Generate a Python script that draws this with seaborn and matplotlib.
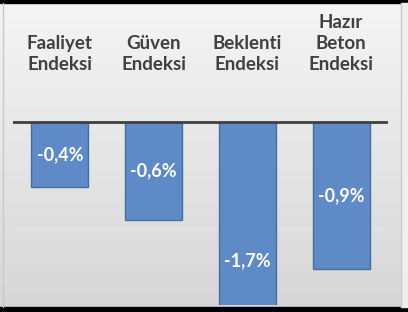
import numpy as np
import pandas as pd
import matplotlib
matplotlib.use("Agg")
import matplotlib.pyplot as plt
import seaborn as sns

categories = ["Faaliyet\nEndeksi", "Güven\nEndeksi", "Beklenti\nEndeksi", "Hazır\nBeton\nEndeksi"]
values = [-0.4, -0.6, -1.7, -0.9]
value_labels = ["-0,4%", "-0,6%", "-1,7%", "-0,9%"]

sns.set_theme(style="white")
plt.rcParams['font.family'] = ['Lato', 'DejaVu Sans']

W, H = 408, 312
fig = plt.figure(figsize=(W / 100, H / 100), dpi=100)

# background panel with gradient
bg = fig.add_axes([0, 0, 1, 1])
grad = np.linspace(0, 1, 256).reshape(-1, 1)
top_c = np.array([0.96, 0.96, 0.96])
bot_c = np.array([0.84, 0.84, 0.84])
img = top_c[None, None, :] * (1 - grad[:, :, None]) + bot_c[None, None, :] * grad[:, :, None]
bg.imshow(img, extent=[0, W, H, 0], aspect='auto')
bg.set_xlim(0, W)
bg.set_ylim(H, 0)
# outer frame
bg.fill_between([0, W], 0, 3, color='black')
bg.fill_between([0, W], 307, H, color='black')
bg.fill_between([401, W], 3, 307, color='#efefef')
bg.plot([3, 3], [3, 307], color='#c8c8c8', lw=1)
bg.plot([400.5, 400.5], [3, 307], color='#c8c8c8', lw=1)
bg.axis('off')

zero_px, scale = 122, 163.0
top_px, bot_px = 3, 305
ax = fig.add_axes([13 / W, (H - bot_px) / H, 375 / W, (bot_px - top_px) / H])
ax.patch.set_alpha(0)
df = pd.DataFrame({"cat": categories, "val": values})
sns.barplot(data=df, x="cat", y="val", color="#5E8AC7", edgecolor="#41719C",
            linewidth=1.0, width=0.61, saturation=1, ax=ax)
ax.set_ylim(-(bot_px - zero_px) / scale, (zero_px - top_px) / scale)
ax.set_xlim(-0.5, 3.5)
ax.axhline(-0.65, color='#e6e6e6', lw=1, zorder=0)
ax.axhline(0, color='#404040', lw=2, zorder=5)
for i, (c, v, lab) in enumerate(zip(categories, values, value_labels)):
    ax.text(i, v / 2, lab, ha='center', va='center', color='white',
            fontsize=13, fontweight='bold', zorder=6)
    ax.text(i, (zero_px - 73) / scale, c, ha='center', va='bottom', color='#404040',
            fontsize=13.5, fontweight='bold', linespacing=1.3)
ax.axis('off')

fig.savefig("out.png", dpi=100)
